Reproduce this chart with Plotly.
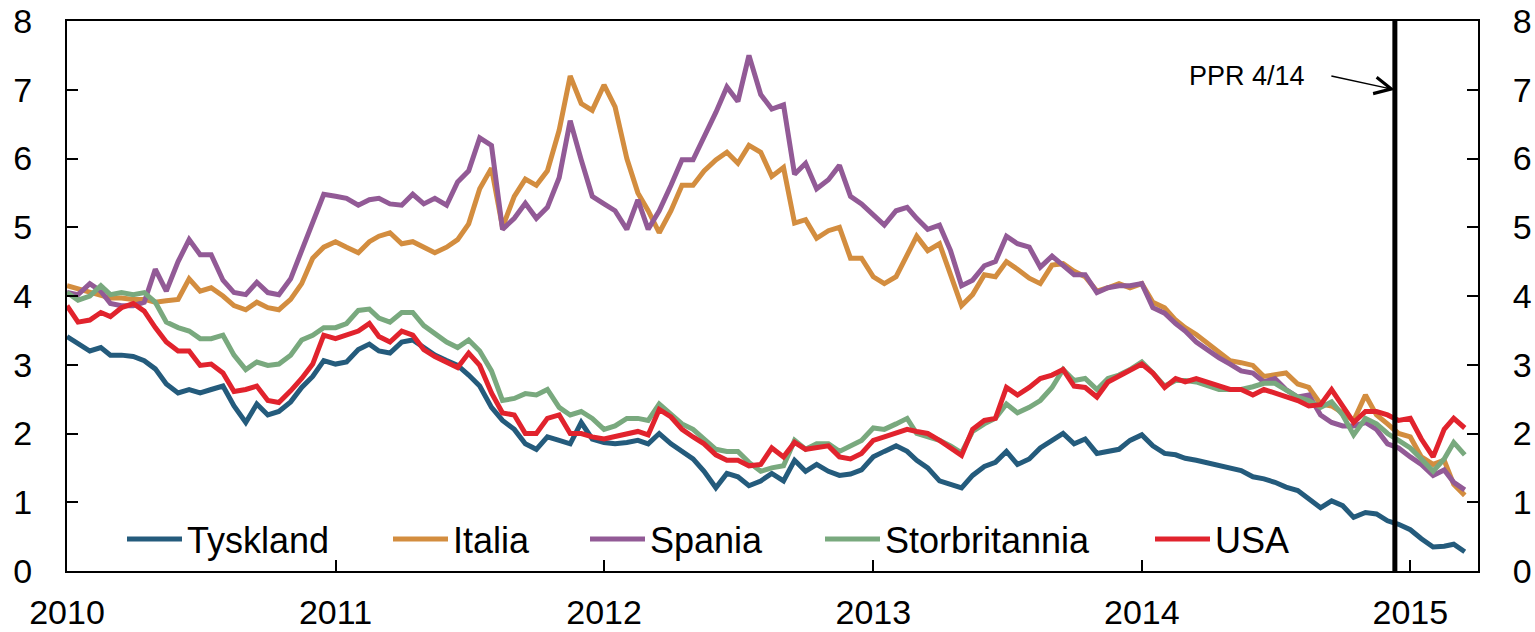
import plotly.graph_objects as go

# halvmånedlige observasjoner (1. og 16. i hver måned), jan 2010 - mars 2015
datoer = [f"{2010 + k // 24}-{(k % 24) // 2 + 1:02d}-{'01' if k % 2 == 0 else '16'}" for k in range(126)]

tyskland = [3.41, 3.30, 3.20, 3.25, 3.14, 3.14, 3.12, 3.06, 2.94, 2.72, 2.59, 2.64, 2.59, 2.64, 2.69, 2.40,
            2.16, 2.43, 2.27, 2.32, 2.46, 2.67, 2.83, 3.06, 3.01, 3.04, 3.22, 3.30, 3.20, 3.17, 3.33, 3.36,
            3.25, 3.14, 3.06, 2.99, 2.85, 2.69, 2.38, 2.19, 2.06, 1.85, 1.77, 1.95, 1.90, 1.85, 2.16, 1.92,
            1.87, 1.85, 1.87, 1.90, 1.85, 2.00, 1.85, 1.74, 1.63, 1.45, 1.21, 1.42, 1.37, 1.24, 1.31, 1.42,
            1.31, 1.61, 1.45, 1.55, 1.45, 1.39, 1.41, 1.47, 1.66, 1.74, 1.82, 1.74, 1.61, 1.50, 1.31, 1.26,
            1.21, 1.39, 1.52, 1.58, 1.74, 1.55, 1.63, 1.79, 1.90, 2.00, 1.85, 1.92, 1.71, 1.74, 1.77, 1.90,
            1.98, 1.82, 1.71, 1.69, 1.64, 1.61, 1.57, 1.55, 1.50, 1.46, 1.37, 1.34, 1.29, 1.22, 1.17, 1.05,
            0.92, 1.02, 0.95, 0.78, 0.85, 0.83, 0.73, 0.68, 0.60, 0.47, 0.35, 0.36, 0.39, 0.28]

italia = [4.15, 4.10, 4.05, 4.00, 3.97, 3.97, 3.95, 3.95, 3.91, 3.93, 3.95, 4.25, 4.07, 4.12, 4.00, 3.86,
          3.80, 3.91, 3.83, 3.80, 3.95, 4.18, 4.55, 4.71, 4.79, 4.71, 4.63, 4.79, 4.87, 4.92, 4.76, 4.79,
          4.71, 4.63, 4.71, 4.82, 5.05, 5.56, 5.86, 5.00, 5.45, 5.70, 5.61, 5.82, 6.41, 7.20, 6.80, 6.70,
          7.07, 6.75, 6.00, 5.50, 5.24, 4.92, 5.24, 5.61, 5.61, 5.82, 5.98, 6.09, 5.93, 6.19, 6.09, 5.74,
          5.87, 5.06, 5.11, 4.84, 4.95, 5.00, 4.55, 4.55, 4.28, 4.18, 4.28, 4.60, 4.87, 4.66, 4.76, 4.31,
          3.86, 4.02, 4.31, 4.28, 4.50, 4.39, 4.26, 4.18, 4.45, 4.47, 4.36, 4.28, 4.07, 4.12, 4.18, 4.12,
          4.18, 3.91, 3.83, 3.65, 3.54, 3.44, 3.30, 3.17, 3.06, 3.03, 2.99, 2.83, 2.85, 2.88, 2.72, 2.67,
          2.43, 2.40, 2.30, 2.19, 2.56, 2.27, 2.14, 2.00, 1.95, 1.66, 1.55, 1.61, 1.26, 1.10]

spania = [4.05, 4.02, 4.18, 4.07, 3.89, 3.86, 3.86, 3.91, 4.39, 4.07, 4.50, 4.82, 4.60, 4.60, 4.23, 4.05,
          4.02, 4.20, 4.05, 4.02, 4.25, 4.66, 5.08, 5.48, 5.45, 5.42, 5.32, 5.40, 5.42, 5.34, 5.32, 5.48,
          5.34, 5.42, 5.32, 5.66, 5.82, 6.30, 6.19, 4.97, 5.13, 5.35, 5.13, 5.29, 5.72, 6.55, 5.98, 5.45,
          5.34, 5.24, 4.97, 5.40, 4.97, 5.24, 5.61, 5.98, 5.98, 6.30, 6.67, 7.04, 6.83, 7.50, 6.93, 6.72,
          6.78, 5.77, 5.93, 5.56, 5.69, 5.90, 5.45, 5.34, 5.18, 5.03, 5.24, 5.29, 5.13, 4.97, 5.03, 4.66,
          4.15, 4.23, 4.44, 4.50, 4.87, 4.76, 4.71, 4.42, 4.58, 4.44, 4.31, 4.31, 4.05, 4.12, 4.15, 4.15,
          4.18, 3.83, 3.75, 3.60, 3.49, 3.33, 3.20, 3.10, 3.01, 2.91, 2.88, 2.75, 2.80, 2.64, 2.53, 2.56,
          2.27, 2.16, 2.11, 2.11, 2.16, 2.06, 1.85, 1.79, 1.66, 1.55, 1.39, 1.47, 1.29, 1.18]

storbritannia = [4.05, 3.94, 4.00, 4.15, 4.02, 4.05, 4.02, 4.05, 3.91, 3.62, 3.54, 3.49, 3.38, 3.38, 3.43, 3.14,
                 2.93, 3.04, 2.99, 3.01, 3.14, 3.36, 3.43, 3.54, 3.54, 3.60, 3.79, 3.81, 3.68, 3.62, 3.76, 3.76,
                 3.57, 3.46, 3.33, 3.25, 3.36, 3.20, 2.91, 2.48, 2.51, 2.58, 2.56, 2.64, 2.38, 2.27, 2.32, 2.22,
                 2.06, 2.11, 2.22, 2.22, 2.19, 2.43, 2.27, 2.14, 2.06, 1.92, 1.77, 1.74, 1.74, 1.58, 1.45, 1.50,
                 1.53, 1.90, 1.77, 1.85, 1.85, 1.74, 1.82, 1.90, 2.08, 2.06, 2.14, 2.22, 2.00, 1.95, 1.90, 1.82,
                 1.72, 2.03, 2.14, 2.22, 2.43, 2.30, 2.38, 2.48, 2.67, 2.93, 2.77, 2.80, 2.64, 2.80, 2.85, 2.93,
                 3.04, 2.88, 2.69, 2.77, 2.77, 2.75, 2.69, 2.64, 2.64, 2.64, 2.68, 2.73, 2.73, 2.64, 2.53, 2.48,
                 2.38, 2.46, 2.27, 1.98, 2.22, 2.14, 2.00, 1.90, 1.79, 1.63, 1.45, 1.63, 1.87, 1.69]

usa = [3.86, 3.62, 3.65, 3.76, 3.70, 3.83, 3.89, 3.78, 3.54, 3.33, 3.20, 3.20, 2.99, 3.01, 2.88, 2.61,
       2.64, 2.69, 2.48, 2.45, 2.62, 2.80, 3.01, 3.43, 3.38, 3.43, 3.49, 3.60, 3.41, 3.33, 3.49, 3.43,
       3.22, 3.12, 3.04, 2.96, 3.17, 2.99, 2.59, 2.30, 2.27, 2.00, 2.00, 2.22, 2.27, 2.00, 2.00, 1.95,
       1.92, 1.95, 2.00, 2.03, 1.98, 2.35, 2.24, 2.06, 1.95, 1.85, 1.69, 1.61, 1.61, 1.53, 1.55, 1.79,
       1.66, 1.87, 1.77, 1.79, 1.82, 1.66, 1.63, 1.71, 1.90, 1.95, 2.00, 2.06, 2.03, 2.00, 1.90, 1.80,
       1.68, 2.06, 2.19, 2.22, 2.67, 2.56, 2.67, 2.80, 2.85, 2.93, 2.69, 2.67, 2.53, 2.75, 2.83, 2.91,
       3.01, 2.88, 2.67, 2.80, 2.75, 2.80, 2.75, 2.69, 2.64, 2.64, 2.56, 2.64, 2.59, 2.53, 2.48, 2.40,
       2.42, 2.64, 2.40, 2.16, 2.32, 2.32, 2.27, 2.19, 2.22, 1.92, 1.66, 2.06, 2.22, 2.08]

aarstall = ["2010", "2011", "2012", "2013", "2014", "2015"]
ppr_dato = "2014-12-11"

serier = [
    ("Tyskland", tyskland, "#245B7C"),
    ("Italia", italia, "#D38D3F"),
    ("Spania", spania, "#925A96"),
    ("Storbritannia", storbritannia, "#79A97E"),
    ("USA", usa, "#E1232D"),
]

# plottområdet: x 67-1478, y 21-571 i et 1535x632 vindu
W, H = 1535, 632
L, T, R, B = 67, 21, W - 1478, H - 571
plot_w = W - L - R
plot_h = H - T - B

# startpunkt (px) for hver legendelinje
legende_px = [127, 393, 590, 825, 1155]

font = "Liberation Sans, Arial, sans-serif"

fig = go.Figure()

for i, (navn, verdier, farge) in enumerate(serier):
    leg = "legend" if i == 0 else f"legend{i + 1}"
    # siste serie legges på høyre akse (samme skala) slik at den aksen tegnes
    fig.add_trace(go.Scatter(
        x=datoer,
        y=verdier,
        mode="lines",
        name=navn,
        line=dict(color=farge, width=5),
        legend=leg,
        showlegend=True,
        yaxis="y2" if i == len(serier) - 1 else "y",
    ))

legender = {}
for i, px in enumerate(legende_px):
    leg = "legend" if i == 0 else f"legend{i + 1}"
    legender[leg] = dict(
        orientation="h",
        x=(px - 5 - L) / plot_w,
        xanchor="left",
        y=(571 - 539) / plot_h,
        yanchor="middle",
        font=dict(family=font, size=36, color="black"),
        bgcolor="rgba(0,0,0,0)",
        borderwidth=0,
        itemwidth=55,
        visible=True,
    )

akse = dict(
    showline=True,
    linecolor="black",
    linewidth=2,
    ticks="inside",
    ticklen=11,
    tickwidth=1.5,
    tickcolor="black",
    showgrid=False,
    zeroline=False,
    automargin=False,
    ticklabeloverflow="allow",
    tickfont=dict(family=font, size=34, color="black"),
)

fig.add_shape(
    type="line", xref="x", yref="paper",
    x0=ppr_dato, x1=ppr_dato, y0=0, y1=1,
    line=dict(color="black", width=5),
)

fig.add_annotation(
    xref="paper", yref="paper",
    x=(1247 - L) / plot_w, y=(571 - 76) / plot_h,
    xanchor="center", yanchor="middle",
    text="PPR 4/14", showarrow=False,
    font=dict(family=font, size=27, color="black"),
)
fig.add_annotation(
    xref="x", yref="y",
    x=ppr_dato, y=7,
    ax=-65, ay=-14,
    text="", showarrow=True,
    arrowhead=5, arrowsize=2.2, arrowwidth=1.5, arrowcolor="black",
)

fig.update_layout(
    template="none",
    width=W,
    height=H,
    margin=dict(l=L, r=R, t=T, b=B, pad=0),
    paper_bgcolor="white",
    plot_bgcolor="white",
    showlegend=True,
    font=dict(family=font, color="black"),
    xaxis=dict(
        akse,
        type="date",
        range=["2010-01-01", "2015-04-03"],
        tickvals=[f"{a}-01-01" for a in aarstall],
        ticktext=aarstall,
        mirror=True,
        ticklabelstandoff=10,
    ),
    yaxis=dict(akse, range=[0, 8], dtick=1, tick0=0, mirror=True, ticklabelstandoff=26),
    yaxis2=dict(akse, range=[0, 8], dtick=1, tick0=0, overlaying="y", side="right",
                ticklabelstandoff=26),
    **legender,
)

# fjern standardmargen rundt body slik at figuren fyller vinduet
fig.write_html(
    "out.html",
    config={"displayModeBar": False},
    post_script="document.body.style.margin='0';",
)
